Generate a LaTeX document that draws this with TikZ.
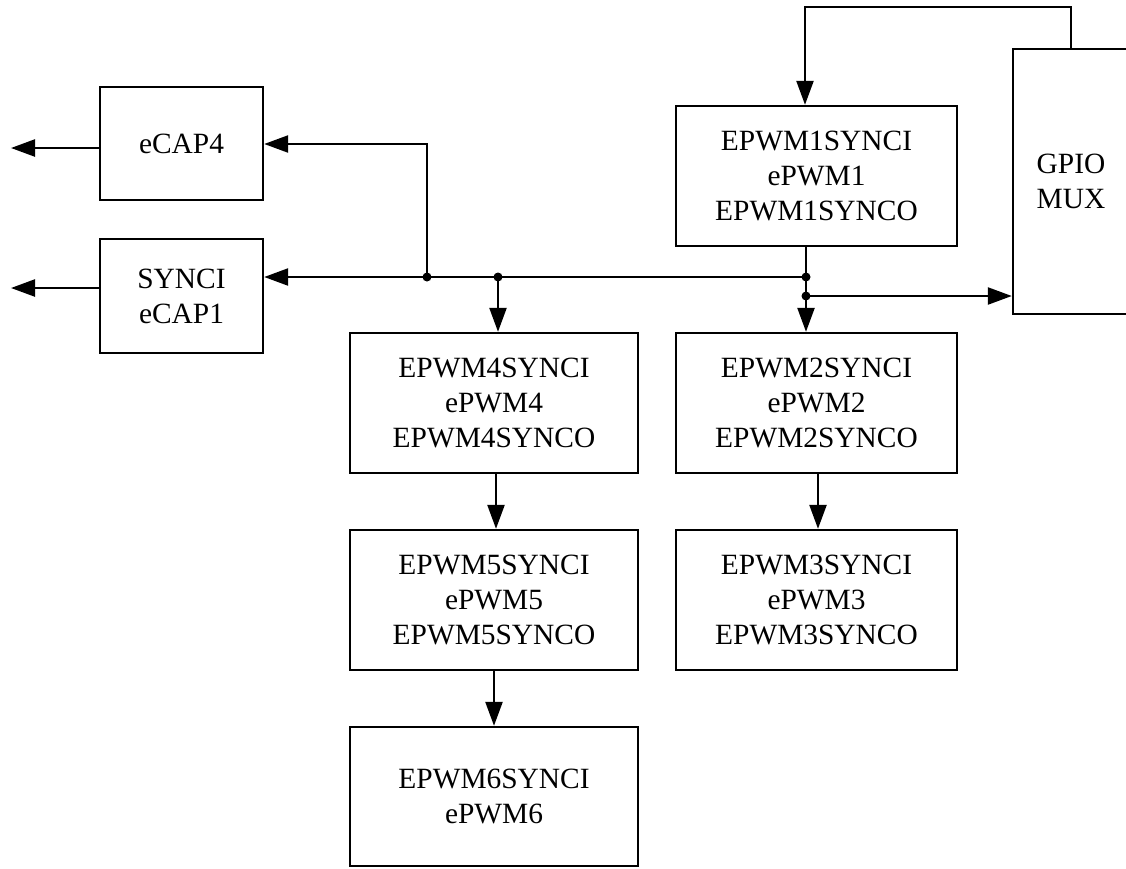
\documentclass[tikz,border=0pt]{standalone}
\usepackage{fontspec}
\setmainfont{Liberation Serif}
\usetikzlibrary{arrows.meta}
\begin{document}
\begin{tikzpicture}[x=1pt,y=-1pt,
  line width=2.4pt,
  blk/.style={draw, rectangle, align=center, inner sep=0pt,
    font=\fontsize{29.4}{35}\selectfont},
  sig/.style={-{Triangle[length=24pt,width=17pt]}},
  dot/.style={circle, fill, inner sep=0pt, minimum size=9pt}]
\useasboundingbox (0,0) rectangle (1126,868);

% capture units
\node[blk, minimum width=163pt, minimum height=113pt] (ecap4) at (181.5,143.5) {eCAP4};
\node[blk, minimum width=163pt, minimum height=114pt] (ecap1) at (181.5,296) {SYNCI\\eCAP1};

% PWM modules
\node[blk, minimum width=281pt, minimum height=140pt] (epwm1) at (816.5,176) {EPWM1SYNCI\\ePWM1\\EPWM1SYNCO};
\node[blk, minimum width=288pt, minimum height=140pt] (epwm4) at (494,403) {EPWM4SYNCI\\ePWM4\\EPWM4SYNCO};
\node[blk, minimum width=281pt, minimum height=140pt] (epwm2) at (816.5,403) {EPWM2SYNCI\\ePWM2\\EPWM2SYNCO};
\node[blk, minimum width=288pt, minimum height=140pt] (epwm5) at (494,600) {EPWM5SYNCI\\ePWM5\\EPWM5SYNCO};
\node[blk, minimum width=281pt, minimum height=140pt] (epwm3) at (816.5,600) {EPWM3SYNCI\\ePWM3\\EPWM3SYNCO};
\node[blk, minimum width=288pt, minimum height=139pt] (epwm6) at (494,796.5) {EPWM6SYNCI\\ePWM6};

% pin multiplexer (runs off the right edge)
\node[blk, minimum width=116pt, minimum height=265pt] (gpio) at (1071,181.5) {GPIO\\MUX};

% junctions and free ends
\coordinate (jbus) at (806,277);
\coordinate (jmux) at (806,296);
\coordinate (jcap) at (427,277);
\coordinate (jpwm4) at (498,277);
\coordinate (out4) at (11,148);
\coordinate (out1) at (11,288);
\coordinate (fbtop) at (1071,7);
\coordinate (fbleft) at (805,7);

% sync bus
\draw (epwm1.south -| jbus) -- (jbus) -- (jmux);
\draw[sig] (jmux) -- (epwm2.north -| jmux);
\draw[sig] (jmux) -- (gpio.west |- jmux);
\draw[sig] (jbus) -- (ecap1.east |- jbus);
\draw[sig] (jcap) -- (jcap |- 0,144) -- (ecap4.east |- 0,144);
\draw[sig] (jpwm4) -- (epwm4.north -| jpwm4);

% sync chains
\draw[sig] (epwm4.south -| 496,0) -- (epwm5.north -| 496,0);
\draw[sig] (epwm5.south -| 494,0) -- (epwm6.north -| 494,0);
\draw[sig] (epwm2.south -| 818,0) -- (epwm3.north -| 818,0);

% capture outputs
\draw[sig] (ecap4.west |- out4) -- (out4);
\draw[sig] (ecap1.west |- out1) -- (out1);

% external sync input
\draw[sig] (gpio.north -| fbtop) -- (fbtop) -- (fbleft) -- (epwm1.north -| fbleft);

% junction dots
\foreach \p in {jbus,jmux,jcap,jpwm4} \node[dot] at (\p) {};
\end{tikzpicture}
\end{document}
